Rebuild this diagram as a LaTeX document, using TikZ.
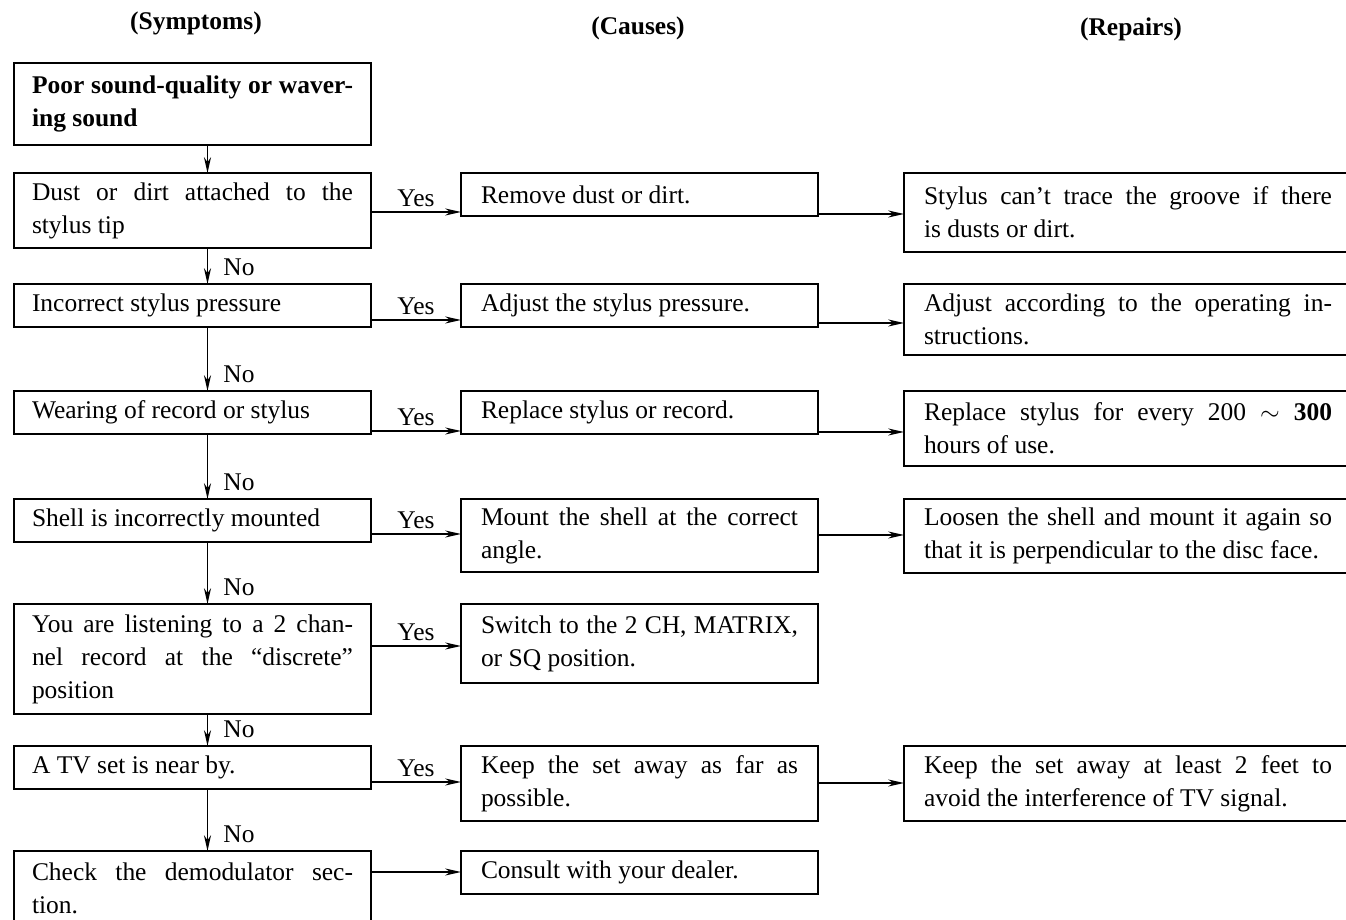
\documentclass[tikz,border=0pt]{standalone}
\usepackage{fontspec}
\setmainfont{Liberation Serif}
\usetikzlibrary{arrows.meta,positioning}
\hyphenpenalty=10000
\exhyphenpenalty=10000

\begin{document}
\begin{tikzpicture}[
	txt/.style={font=\fontsize{14.5}{18.8}\selectfont},
	box/.style={draw, line width=1pt, align=justify, inner ysep=0pt, outer sep=0pt, txt},
	sym/.style={box, text width=6.42cm, inner xsep=0.36cm},
	cause/.style={box, text width=6.34cm, inner xsep=0.4cm},
	rep/.style={box, text width=8.16cm, inner xsep=0.4cm},
	oneline/.style={minimum height=0.86cm},
	twoline/.style={minimum height=1.5cm},
	threeline/.style={minimum height=2.2cm},
	head/.style={font=\bfseries\fontsize{14.5}{18.8}\selectfont},
	flow/.style={-{Stealth[length=9pt,width=4pt]}, line width=1pt},
	yeslabel/.style={midway, above, inner sep=2.5pt, txt},
	nolabel/.style={pos=1, anchor=base west, xshift=0.3cm, yshift=0.16cm, inner sep=0pt, txt}
]
\useasboundingbox (0,0) rectangle (26.92,-18.4);

\node[head] (hs) at (3.92,-0.46) {(Symptoms)};
\node[head] (hc) at (12.76,-0.56) {(Causes)};
\node[head] (hr) at (22.62,-0.58) {(Repairs)};

% symptoms
\node[sym, minimum height=1.64cm, anchor=north] (s1) at (3.85,-1.26) {\bfseries Poor sound-quality or waver-\linebreak ing sound};
\node[sym, twoline, below=0.56cm of s1] (s2) {Dust or dirt attached to the\linebreak stylus tip};
\node[sym, oneline, below=0.72cm of s2] (s3) {Incorrect stylus pressure};
\node[sym, oneline, below=1.28cm of s3] (s4) {Wearing of record or stylus};
\node[sym, oneline, below=1.3cm of s4] (s5) {Shell is incorrectly mounted};
\node[sym, threeline, below=1.24cm of s5] (s6) {You are listening to a 2 chan-\linebreak nel record at the ``discrete''\linebreak position};
\node[sym, oneline, below=0.64cm of s6] (s7) {A TV set is near by.};
\node[sym, twoline, below=1.24cm of s7] (s8) {Check the demodulator sec-\linebreak tion.};

% causes
\node[cause, oneline, right=1.8cm of s2.north east, anchor=north west] (c1) {Remove dust or dirt.};
\node[cause, oneline, right=1.8cm of s3.north east, anchor=north west] (c2) {Adjust the stylus pressure.};
\node[cause, oneline, right=1.8cm of s4.north east, anchor=north west] (c3) {Replace stylus or record.};
\node[cause, twoline, minimum height=1.46cm, right=1.8cm of s5.north east, anchor=north west] (c4) {Mount the shell at the correct\linebreak angle.};
\node[cause, twoline, minimum height=1.58cm, right=1.8cm of s6.north east, anchor=north west] (c5) {Switch to the 2 CH, MATRIX,\linebreak or SQ position.};
\node[cause, twoline, right=1.8cm of s7.north east, anchor=north west] (c6) {Keep the set away as far as\linebreak possible.};
\node[cause, oneline, right=1.8cm of s8.north east, anchor=north west] (c7) {Consult with your dealer.};

% repairs
\node[rep, twoline, minimum height=1.58cm, right=1.72cm of c1.north east, anchor=north west] (r1) {Stylus can't trace the groove if there\linebreak is dusts or dirt.};
\node[rep, twoline, minimum height=1.42cm, right=1.72cm of c2.north east, anchor=north west] (r2) {Adjust according to the operating in-\linebreak structions.};
\node[rep, twoline, right=1.72cm of c3.north east, anchor=north west] (r3) {Replace stylus for every 200 $\sim$ \textbf{300}\linebreak hours of use.};
\node[rep, twoline, minimum height=1.48cm, right=1.72cm of c4.north east, anchor=north west] (r4) {Loosen the shell and mount it again so\linebreak that it is perpendicular to the disc face.};
\node[rep, twoline, right=1.72cm of c6.north east, anchor=north west] (r5) {Keep the set away at least 2 feet to\linebreak avoid the interference of TV signal.};

% no
\draw[flow] ([xshift=0.3cm]s1.south) -- ([xshift=0.3cm]s2.north);
\draw[flow] ([xshift=0.3cm]s2.south) -- node[nolabel] {No} ([xshift=0.3cm]s3.north);
\draw[flow] ([xshift=0.3cm]s3.south) -- node[nolabel] {No} ([xshift=0.3cm]s4.north);
\draw[flow] ([xshift=0.3cm]s4.south) -- node[nolabel] {No} ([xshift=0.3cm]s5.north);
\draw[flow] ([xshift=0.3cm]s5.south) -- node[nolabel] {No} ([xshift=0.3cm]s6.north);
\draw[flow] ([xshift=0.3cm]s6.south) -- node[nolabel] {No} ([xshift=0.3cm]s7.north);
\draw[flow] ([xshift=0.3cm]s7.south) -- node[nolabel] {No} ([xshift=0.3cm]s8.north);

% yes
\draw[flow] ([yshift=-0.78cm]s2.north east) -- node[yeslabel] {Yes} ([yshift=-0.78cm]c1.north west);
\draw[flow] ([yshift=-0.72cm]s3.north east) -- node[yeslabel] {Yes} ([yshift=-0.72cm]c2.north west);
\draw[flow] ([yshift=-0.8cm]s4.north east) -- node[yeslabel] {Yes} ([yshift=-0.8cm]c3.north west);
\draw[flow] ([yshift=-0.7cm]s5.north east) -- node[yeslabel] {Yes} ([yshift=-0.7cm]c4.north west);
\draw[flow] ([yshift=-0.84cm]s6.north east) -- node[yeslabel] {Yes} ([yshift=-0.84cm]c5.north west);
\draw[flow] ([yshift=-0.72cm]s7.north east) -- node[yeslabel] {Yes} ([yshift=-0.72cm]c6.north west);
\draw[flow] ([yshift=-0.42cm]s8.north east) -- ([yshift=-0.42cm]c7.north west);

% to repairs
\draw[flow] ([yshift=-0.82cm]c1.north east) -- ([yshift=-0.82cm]r1.north west);
\draw[flow] ([yshift=-0.78cm]c2.north east) -- ([yshift=-0.78cm]r2.north west);
\draw[flow] ([yshift=-0.82cm]c3.north east) -- ([yshift=-0.82cm]r3.north west);
\draw[flow] ([yshift=-0.72cm]c4.north east) -- ([yshift=-0.72cm]r4.north west);
\draw[flow] ([yshift=-0.74cm]c6.north east) -- ([yshift=-0.74cm]r5.north west);
\end{tikzpicture}
\end{document}
